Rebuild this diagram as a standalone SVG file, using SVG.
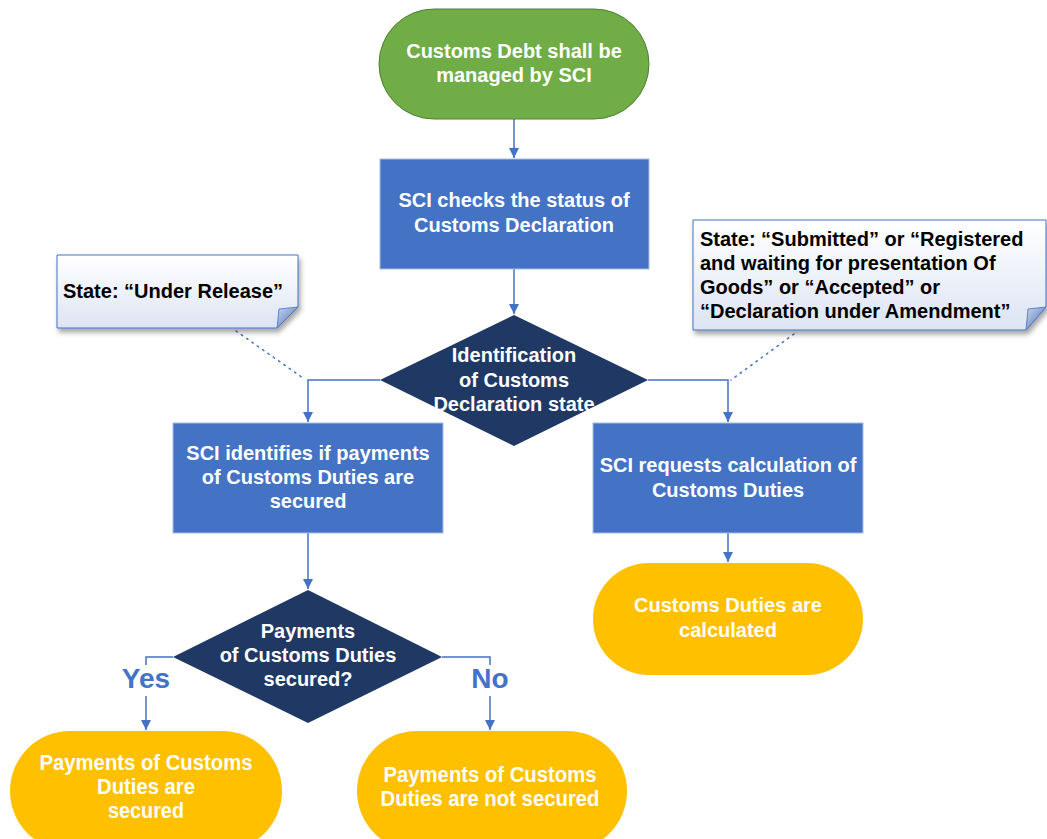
<svg xmlns="http://www.w3.org/2000/svg" width="1047" height="839" viewBox="0 0 1047 839">
<defs>
<style>
.t{font-family:"Liberation Sans",Arial,sans-serif;font-weight:bold;font-size:20px;fill:#fff;text-anchor:middle}
.tn{font-family:"Liberation Sans",Arial,sans-serif;font-weight:bold;font-size:22px;fill:#fff;text-anchor:middle}
.n{font-family:"Liberation Sans",Arial,sans-serif;font-weight:bold;font-size:20px;fill:#000}
.lbl{font-family:"Liberation Sans",Arial,sans-serif;font-weight:bold;font-size:28px;fill:#4472C4;text-anchor:middle}
.c{fill:none;stroke:#4472C4;stroke-width:1.5}
.dot{fill:none;stroke:#4472C4;stroke-width:1.5;stroke-dasharray:1.5 5;stroke-linecap:round}
.box{fill:#4472C4;stroke:#A9BCE0;stroke-width:1}
.dia{fill:#203864}
.term{fill:#FFC000}
.note{fill:url(#ng);stroke:#4472C4;stroke-width:1;filter:url(#sh)}
.fold{fill:url(#fg);stroke:#4472C4;stroke-width:0.8}
</style>
<linearGradient id="ng" x1="0" y1="0" x2="0" y2="1">
<stop offset="0" stop-color="#FFFFFF"/>
<stop offset="1" stop-color="#DCE4F3"/>
</linearGradient>
<linearGradient id="fg" x1="0" y1="0" x2="1" y2="1">
<stop offset="0" stop-color="#C9D6EE"/>
<stop offset="1" stop-color="#4A6FB5"/>
</linearGradient>
<filter id="sh" x="-10%" y="-10%" width="130%" height="140%">
<feDropShadow dx="2" dy="4" stdDeviation="2.5" flood-color="#000" flood-opacity="0.35"/>
</filter>
<marker id="ah" viewBox="0 0 10 10" refX="10" refY="5" markerWidth="10" markerHeight="10" markerUnits="userSpaceOnUse" orient="auto">
<path d="M0,0 L10,5 L0,10 Z" fill="#4472C4"/>
</marker>
</defs>
<rect width="1047" height="839" fill="#fff"/>

<g id="connectors">
<line class="c" x1="514" y1="119" x2="514" y2="158" marker-end="url(#ah)"/>
<line class="c" x1="514" y1="269" x2="514" y2="314" marker-end="url(#ah)"/>
<polyline class="c" points="380,380 308,380 308,422" marker-end="url(#ah)"/>
<polyline class="c" points="648,380 728,380 728,422" marker-end="url(#ah)"/>
<line class="c" x1="308" y1="533" x2="308" y2="589" marker-end="url(#ah)"/>
<line class="c" x1="728" y1="533" x2="728" y2="562" marker-end="url(#ah)"/>
<polyline class="c" points="173,657 146,657 146,665"/>
<line class="c" x1="146" y1="696" x2="146" y2="730" marker-end="url(#ah)"/>
<polyline class="c" points="442,657 490,657 490,665"/>
<line class="c" x1="490" y1="696" x2="490" y2="730" marker-end="url(#ah)"/>
<line class="dot" x1="236" y1="331" x2="303" y2="378"/>
<line class="dot" x1="794" y1="334" x2="731" y2="380"/>
<text class="lbl" x="146" y="688">Yes</text>
<text class="lbl" x="490" y="688">No</text>
</g>

<g id="start">
<rect x="379" y="9" width="270" height="110" rx="55" fill="#70AD47" stroke="#507E32" stroke-width="1"/>
<text class="t" x="514" y="58">Customs Debt shall be</text>
<text class="t" x="514" y="82">managed by SCI</text>
</g>

<g id="check">
<rect class="box" x="380" y="159" width="269" height="110"/>
<text class="t" x="514" y="207">SCI checks the status of</text>
<text class="t" x="514" y="232">Customs Declaration</text>
</g>

<g id="decision1">
<polygon class="dia" points="514,315 648,380 514,446 380,380"/>
<text class="t" x="514" y="362">Identification</text>
<text class="t" x="514" y="387">of Customs</text>
<text class="t" x="514" y="411">Declaration state</text>
</g>

<g id="note-left">
<path class="note" d="M57,255 H298 V307 L277,328 H57 Z"/>
<path class="fold" d="M298,307 L277,328 L279,309 Z"/>
<text class="n" x="63" y="298">State: “Under Release”</text>
</g>

<g id="note-right">
<path class="note" d="M693,220 H1046 V307 L1026,330 H693 Z"/>
<path class="fold" d="M1046,307 L1026,330 L1028,309 Z"/>
<text class="n" x="700" y="246">State: “Submitted” or “Registered</text>
<text class="n" x="700" y="270">and waiting for presentation Of</text>
<text class="n" x="700" y="294">Goods” or “Accepted” or</text>
<text class="n" x="700" y="318">“Declaration under Amendment”</text>
</g>

<g id="identify">
<rect class="box" x="173" y="423" width="270" height="110"/>
<text class="t" x="308" y="460">SCI identifies if payments</text>
<text class="t" x="308" y="484">of Customs Duties are</text>
<text class="t" x="308" y="508">secured</text>
</g>

<g id="request">
<rect class="box" x="593" y="423" width="270" height="110"/>
<text class="t" x="728" y="472">SCI requests calculation of</text>
<text class="t" x="728" y="497">Customs Duties</text>
</g>

<g id="calculated">
<rect class="term" x="593" y="563" width="270" height="112" rx="56"/>
<text class="t" x="728" y="612">Customs Duties are</text>
<text class="t" x="728" y="637">calculated</text>
</g>

<g id="decision2">
<polygon class="dia" points="308,590 442,657 308,723 173,657"/>
<text class="t" x="308" y="638">Payments</text>
<text class="t" x="308" y="662">of Customs Duties</text>
<text class="t" x="308" y="686">secured?</text>
</g>

<g id="secured">
<rect class="term" x="10" y="731" width="272" height="120" rx="60"/>
<text class="tn" x="146" y="770" textLength="213" lengthAdjust="spacingAndGlyphs">Payments of Customs</text>
<text class="tn" x="146" y="794" textLength="98" lengthAdjust="spacingAndGlyphs">Duties are</text>
<text class="tn" x="146" y="818" textLength="76" lengthAdjust="spacingAndGlyphs">secured</text>
</g>

<g id="not-secured">
<rect class="term" x="357" y="731" width="270" height="120" rx="60"/>
<text class="tn" x="490" y="782" textLength="213" lengthAdjust="spacingAndGlyphs">Payments of Customs</text>
<text class="tn" x="490" y="806" textLength="219" lengthAdjust="spacingAndGlyphs">Duties are not secured</text>
</g>
</svg>
